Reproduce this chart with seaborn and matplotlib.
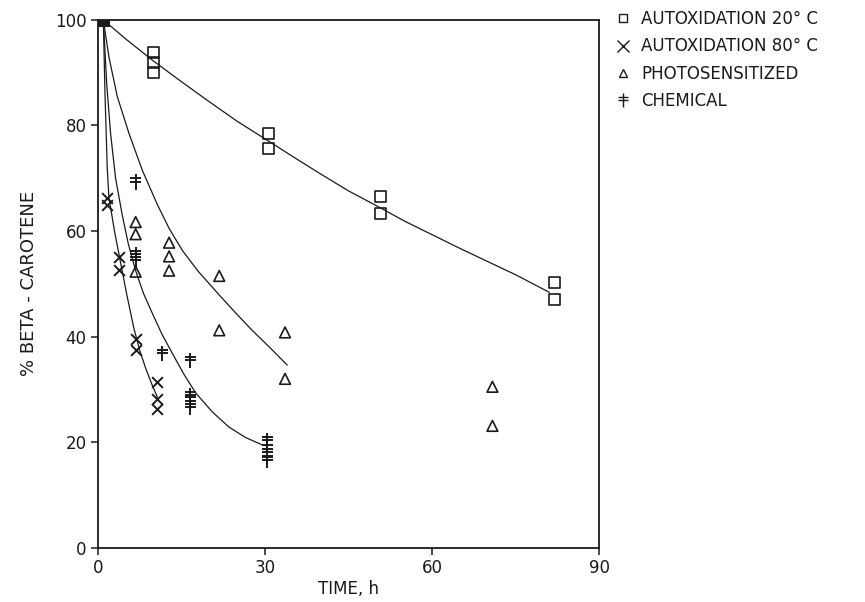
import matplotlib
matplotlib.use('Agg')
import matplotlib.pyplot as plt
from matplotlib.path import Path
from matplotlib.lines import Line2D
import numpy as np
import seaborn as sns

sns.set_theme(style='ticks', rc={'text.color': 'k', 'axes.labelcolor': 'k',
                                 'xtick.color': 'k', 'ytick.color': 'k', 'axes.edgecolor': 'k'})
plt.rcParams['font.family'] = ['DejaVu Sans']

# measured points (time in h, % beta-carotene)
t_start = [1.0]
y_start = [100.0]

t_20 = [10, 10, 10, 30.7, 30.7, 50.7, 50.7, 82, 82]
y_20 = [93.8, 91.9, 90.0, 78.5, 75.6, 66.6, 63.3, 50.3, 47.0]

t_80 = [1.7, 1.7, 3.8, 3.8, 6.8, 6.8, 10.7, 10.7, 10.7]
y_80 = [66.3, 65.0, 55.1, 52.6, 39.5, 37.4, 31.5, 28.2, 26.3]

t_photo = [6.8, 6.8, 6.8, 12.8, 12.8, 12.8, 21.8, 21.8, 33.6, 33.6, 70.8, 70.8]
y_photo = [61.7, 59.4, 52.3, 57.8, 55.2, 52.5, 51.5, 41.2, 40.8, 32.0, 30.5, 23.1]

t_chem = [6.8, 6.8, 6.8, 11.6, 16.6, 16.6, 16.6, 16.6, 30.4, 30.4, 30.4, 30.4]
y_chem = [69.3, 55.5, 54.4, 36.8, 35.5, 28.8, 27.8, 26.6, 20.3, 18.7, 17.4, 16.5]

# fitted curves
ct_20 = [1, 5, 10, 15, 20, 25, 30.7, 35, 40, 45, 50.7, 55, 60, 65, 70, 75, 81]
cy_20 = [100, 96.4, 92.2, 88.3, 84.5, 80.8, 77.0, 74.1, 70.8, 67.6, 64.4, 61.9, 59.3, 56.7, 54.2, 51.7, 48.4]

ct_photo = [1, 2, 3.5, 5.6, 8, 10.7, 12.8, 15.2, 18, 21.7, 25, 27.7, 31, 34]
cy_photo = [100, 93, 85.5, 78.5, 71.5, 65.0, 60.5, 56.3, 52.4, 48.0, 44.2, 41.2, 37.8, 34.6]

ct_chem = [1, 1.6, 2.3, 3.2, 4.4, 5.5, 6.8, 8.2, 9.8, 11.5, 13.4, 15.5, 17.6, 20.5, 23.5, 26.5, 29.5]
cy_chem = [100, 88, 78.5, 70, 63, 57.5, 52.5, 48.2, 44.4, 40.5, 36.8, 32.8, 29.3, 25.8, 22.9, 20.9, 19.5]

ct_80 = [1, 1.3, 1.7, 2.0, 3.0, 4.1, 5.2, 6.5, 7.5, 8.6, 9.7, 10.7]
cy_80 = [100, 86, 72, 66.4, 60.0, 54.0, 48.0, 41.5, 37.5, 34.0, 31.0, 28.5]

labels = ['AUTOXIDATION 20\u00b0 C', 'AUTOXIDATION 80\u00b0 C', 'PHOTOSENSITIZED', 'CHEMICAL']

# double dagger marker
ddag = Path([(0, -1), (0, 1), (-0.7, 0.5), (0.7, 0.5), (-0.7, 0.05), (0.7, 0.05)],
            [Path.MOVETO, Path.LINETO, Path.MOVETO, Path.LINETO, Path.MOVETO, Path.LINETO])

fig = plt.figure(figsize=(8.65, 6.02), dpi=100)
ax = fig.add_axes([0.113, 0.09, 0.58, 0.877])

for ct, cy in [(ct_20, cy_20), (ct_photo, cy_photo), (ct_chem, cy_chem), (ct_80, cy_80)]:
    sns.lineplot(x=ct, y=cy, sort=False, estimator=None, color='k', lw=0.9, ax=ax)

sns.scatterplot(x=t_20, y=y_20, marker='s', s=62, facecolors='none', edgecolor='k', linewidth=1.2, ax=ax)
sns.scatterplot(x=t_80, y=y_80, marker='x', s=60, color='k', linewidth=1.4, ax=ax)
sns.scatterplot(x=t_photo, y=y_photo, marker='^', s=60, facecolors='none', edgecolor='k', linewidth=1.2, ax=ax)
sns.scatterplot(x=t_chem, y=y_chem, marker=ddag, s=120, facecolors='none', edgecolor='k', linewidth=1.4, ax=ax)
sns.scatterplot(x=t_start, y=y_start, marker='s', s=80, color='k', edgecolor='k', ax=ax)

ax.set_xlim(0, 90)
ax.set_ylim(0, 100)
ax.set_xticks([0, 30, 60, 90])
ax.set_yticks([0, 20, 40, 60, 80, 100])
ax.tick_params(direction='out', length=5, width=1.1, labelsize=12, pad=3)
for sp in ax.spines.values():
    sp.set_visible(True)
    sp.set_linewidth(1.3)
ax.set_xlabel('TIME, h', fontsize=12, labelpad=2)
ax.set_ylabel('% BETA - CAROTENE', fontsize=13, labelpad=12)

handles = [
    Line2D([], [], ls='none', marker='s', ms=6, mfc='none', mec='k', mew=1.0),
    Line2D([], [], ls='none', marker='x', ms=8, mec='k', mew=1.0),
    Line2D([], [], ls='none', marker='^', ms=6, mfc='none', mec='k', mew=1.0),
    Line2D([], [], ls='none', marker=ddag, ms=10, mfc='none', mec='k', mew=1.0),
]
fig.legend(handles, labels, loc='upper left', bbox_to_anchor=(0.693, 1.008), frameon=False,
           fontsize=12, handlelength=1.0, handletextpad=0.6, labelspacing=0.55)

fig.savefig('out.png', dpi=100)
